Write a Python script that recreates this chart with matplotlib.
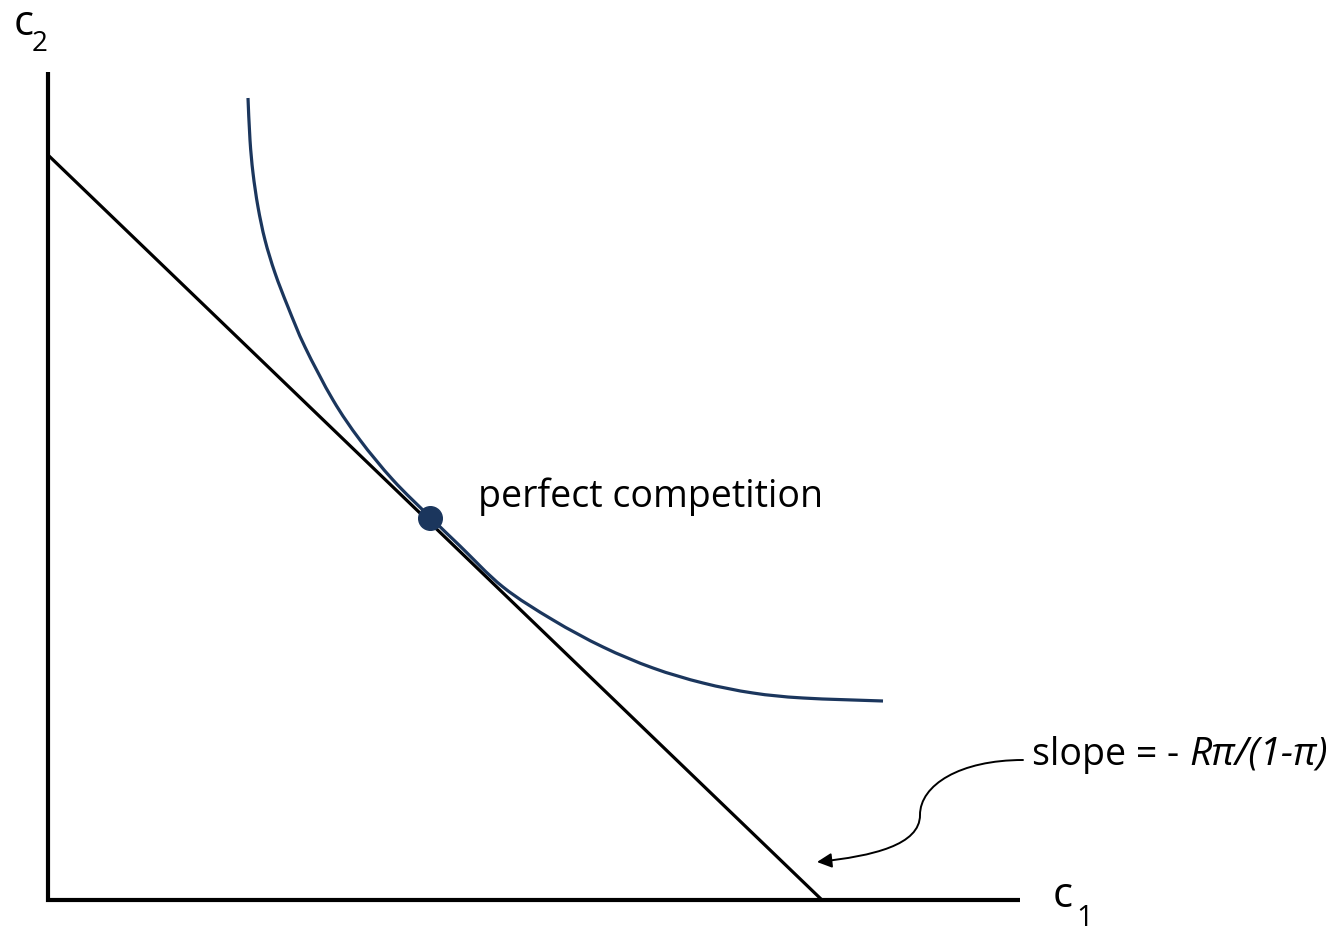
"""
Budget line and indifference curve: perfect competition allocation.
"""

import matplotlib
matplotlib.use("Agg")
import matplotlib.pyplot as plt
from matplotlib.patches import FancyArrowPatch, PathPatch
from matplotlib.path import Path

plt.rcParams["font.family"] = ["Open Sans", "DejaVu Sans"]

NAVY = "#1b365d"

# axes extents (c1, c2 units)
axis_c1_max = 9.72
axis_c2_max = 8.28

# budget line endpoints
budget_c1 = [0.0, 7.74]
budget_c2 = [7.45, 0.0]

# indifference curve
curve_c1 = [2.00, 2.02, 2.05, 2.10, 2.17, 2.27, 2.40, 2.57, 2.85, 3.12, 3.45,
            3.82, 4.12, 4.55, 5.05, 5.55, 6.05, 6.55, 7.05, 7.55, 8.35]
curve_c2 = [8.02, 7.60, 7.27, 6.93, 6.60, 6.27, 5.93, 5.53, 5.00, 4.60, 4.20,
            3.83, 3.54, 3.13, 2.80, 2.53, 2.32, 2.17, 2.07, 2.02, 1.99]

# tangency point
eq_c1, eq_c2 = 3.82, 3.82

# curly connector from the slope label to the budget line
connector = [(9.75, 1.40), (9.12, 1.40), (8.72, 1.15), (8.72, 0.85),
             (8.72, 0.55), (8.25, 0.44), (7.69, 0.38)]


def smooth_path(xs, ys):
    """Bezier path through the points (Catmull-Rom tangents)."""
    pts = list(zip(xs, ys))
    verts = [pts[0]]
    codes = [Path.MOVETO]
    n = len(pts)
    for i in range(n - 1):
        p0 = pts[max(i - 1, 0)]
        p1 = pts[i]
        p2 = pts[i + 1]
        p3 = pts[min(i + 2, n - 1)]
        c1 = (p1[0] + (p2[0] - p0[0]) / 6, p1[1] + (p2[1] - p0[1]) / 6)
        c2 = (p2[0] - (p3[0] - p1[0]) / 6, p2[1] - (p3[1] - p1[1]) / 6)
        verts += [c1, c2, p2]
        codes += [Path.CURVE4] * 3
    return Path(verts, codes)


def main():
    fig = plt.figure(figsize=(13.39, 9.33), dpi=100)
    ax = fig.add_axes([0, 0, 1, 1])
    ax.set_xlim(-0.48, 12.91)
    ax.set_ylim(-0.33, 9.00)
    ax.axis("off")

    # axes
    ax.plot([0, 0, axis_c1_max], [axis_c2_max, 0, 0], color="black", lw=3.0,
            solid_joinstyle="miter", solid_capstyle="butt")

    ax.plot(budget_c1, budget_c2, color="black", lw=2.3, solid_capstyle="butt")
    ax.add_patch(PathPatch(smooth_path(curve_c1, curve_c2), facecolor="none",
                           edgecolor=NAVY, lw=2.3, capstyle="butt"))
    ax.plot([eq_c1], [eq_c2], "o", color=NAVY, markersize=17, zorder=5)

    ax.text(4.30, 4.03, "perfect competition", fontsize=27, va="center", ha="left")

    # axis labels with subscripts
    ax.text(-0.34, 8.76, "c", fontsize=30, ha="left", va="center")
    ax.text(-0.16, 8.56, "2", fontsize=20, ha="left", va="center")
    ax.text(10.05, 0.04, "c", fontsize=30, ha="left", va="center")
    ax.text(10.28, -0.18, "1", fontsize=21, ha="left", va="center")

    # slope label
    t1 = ax.text(9.84, 1.45, "slope = - ", fontsize=27, ha="left", va="center")
    ax.annotate("Rπ/(1-π)", xy=(1, 0.5), xycoords=t1, fontsize=28,
                style="italic", ha="left", va="center")

    codes = [Path.MOVETO] + [Path.CURVE4] * 6
    arrow = FancyArrowPatch(path=Path(connector, codes), arrowstyle="-|>",
                            mutation_scale=22, lw=1.4, color="black")
    ax.add_patch(arrow)

    fig.savefig("out.png", dpi=100)


if __name__ == "__main__":
    main()
